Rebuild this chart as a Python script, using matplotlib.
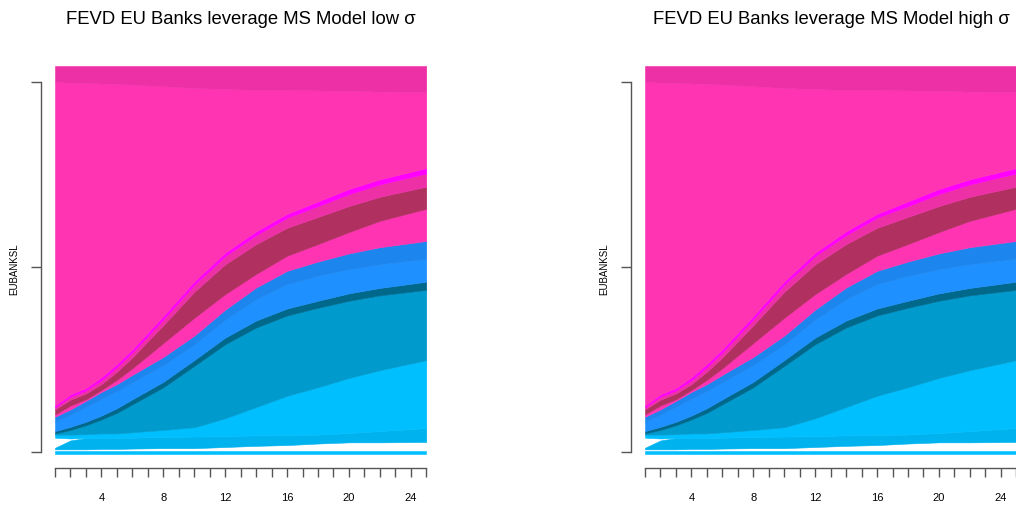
import numpy as np
import matplotlib
matplotlib.use("Agg")
import matplotlib.pyplot as plt

plt.rcParams['font.family'] = ['Liberation Sans', 'DejaVu Sans']

horizon = [1, 2, 3, 4, 5, 6, 8, 10, 12, 14, 16, 18, 20, 22, 25]

# variance shares in % (bottom of the stack first)
cyan_line = [0.9] * 15
gap_low = [0.3, 0.3, 0.3, 0.4, 0.4, 0.5, 0.6, 0.6, 0.9, 1.2, 1.4, 1.8, 2.1, 2.1, 2.2]
skyblue2 = [0.4, 2.3, 2.9, 2.8, 2.8, 2.8, 2.9, 3.0, 2.8, 2.7, 2.6, 2.3, 2.4, 2.9, 3.6]
gap_wedge = [2.6, 0.5, 0, 0, 0, 0, 0, 0, 0, 0, 0, 0, 0, 0, 0]
skyblue = [0.8, 1.0, 1.0, 1.2, 1.2, 1.4, 1.8, 2.4, 4.6, 7.3, 10.1, 12.2, 14.2, 15.7, 17.5]
skyblue3 = [0.3, 1.2, 2.3, 3.6, 5.3, 7.2, 11.0, 15.8, 19.1, 20.5, 20.7, 20.5, 19.9, 19.3, 18.1]
skyblue4 = [0.6, 0.8, 0.9, 1.0, 1.2, 1.3, 1.4, 1.5, 1.7, 1.8, 1.8, 1.8, 1.9, 1.9, 2.1]
dodger = [2.4, 3.1, 3.9, 4.3, 4.4, 4.4, 4.3, 4.0, 4.6, 5.5, 6.3, 6.4, 6.2, 6.1, 5.9]
dodger2 = [1.3, 1.4, 1.5, 1.8, 1.8, 1.9, 2.1, 2.3, 2.6, 3.0, 3.4, 3.7, 4.1, 4.4, 4.6]
pink_low = [0.6, 1.0, 0.4, 0.5, 1.1, 1.7, 3.6, 4.6, 4.0, 3.5, 3.9, 4.5, 5.5, 6.8, 8.3]
maroon = [1.3, 1.5, 1.5, 1.5, 2.1, 2.8, 4.6, 6.7, 7.7, 7.7, 7.2, 7.0, 6.7, 6.2, 5.7]
maroon2 = [0.5, 0.8, 0.8, 1.0, 1.2, 1.3, 1.5, 1.8, 2.1, 2.3, 2.6, 2.8, 3.1, 3.2, 3.4]
magenta = [0.5, 0.6, 0.6, 0.8, 0.8, 0.8, 0.9, 0.9, 0.9, 1.0, 1.0, 1.2, 1.3, 1.3, 1.4]
pink_main = [83.4, 80.3, 78.6, 75.7, 72.2, 68.2, 59.2, 49.8, 42.2, 36.4, 31.9, 28.6, 25.3, 22.6, 19.6]
top_band = [4.1, 4.3, 4.4, 4.5, 4.6, 4.8, 5.2, 5.7, 5.9, 6.2, 6.2, 6.3, 6.4, 6.6, 6.7]

layers = [cyan_line, gap_low, skyblue2, gap_wedge, skyblue, skyblue3, skyblue4,
          dodger, dodger2, pink_low, maroon, maroon2, magenta, pink_main, top_band]
colors = ['#00BFFF', None, '#00B2EE', None, '#00BFFF', '#009ACD', '#00688B',
          '#1E90FF', '#1C86EE', '#FF34B3', '#B03060', '#EE30A7', '#FF00FF',
          '#FF34B3', '#EE30A7']

titles = ["FEVD EU Banks leverage MS Model low \u03c3",
          "FEVD EU Banks leverage MS Model high \u03c3"]
xticks = list(range(1, 26))
xlabels = [str(t) if t % 4 == 0 else '' for t in xticks]
yticks = [0.5, 48.2, 95.9]

W, H = 1016, 510
fig = plt.figure(figsize=(W / 100, H / 100), dpi=100)

for k, left in enumerate([55, 645]):
    ax = fig.add_axes([left / W, 55 / H, 371.3 / W, 388 / H])
    x = np.array(horizon)
    base = np.zeros(len(x))
    for vals, col in zip(layers, colors):
        top = base + np.array(vals)
        if col is not None:
            ax.fill_between(x, base, top, facecolor=col, edgecolor=col, lw=0.4)
        base = top
    ax.set_xlim(1, 25)
    ax.set_ylim(0, 100)
    for s in ['top', 'right']:
        ax.spines[s].set_visible(False)
    ax.spines['left'].set_position(('outward', 10))
    ax.spines['bottom'].set_position(('outward', 10))
    ax.spines['left'].set_bounds(yticks[0], yticks[-1])
    ax.spines['bottom'].set_bounds(1, 25)
    for s in ['left', 'bottom']:
        ax.spines[s].set_color('#555555')
        ax.spines[s].set_linewidth(1.0)
    ax.set_yticks(yticks)
    ax.set_yticklabels([])
    ax.set_xticks(xticks)
    ax.set_xticklabels(xlabels, fontsize=8)
    ax.tick_params(axis='y', length=7.2, width=1.0, color='#555555')
    ax.tick_params(axis='x', length=6.5, width=1.0, color='#555555', pad=11)
    fig.text((left - 41) / W, 1 - 269 / H, 'EUBANKSL', rotation=90,
             ha='center', va='center', fontsize=7)
    fig.text((left + 186) / W, 1 - 19 / H, titles[k], ha='center', va='center',
             fontsize=13.3)

fig.savefig('out.png', dpi=100)
